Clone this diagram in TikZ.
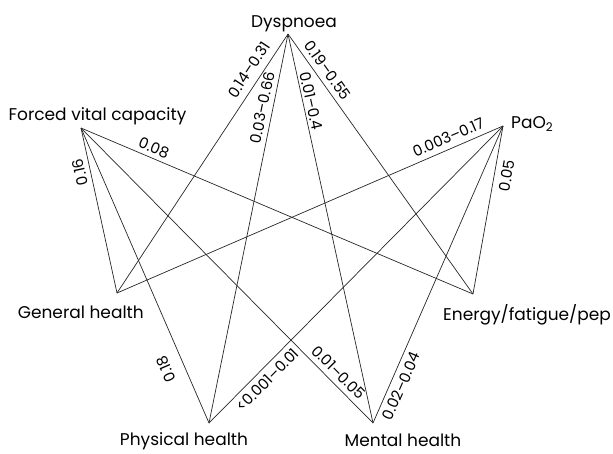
\documentclass[tikz,border=0pt]{standalone}
\usepackage{fontspec}
\setmainfont{Poppins}
\begin{document}
\begin{tikzpicture}[x=1pt,y=-1pt,
  edge/.style={draw=black!85, line width=0.7pt},
  lab/.style={font=\fontsize{15}{17}\selectfont, inner sep=0pt, sloped},
  ttl/.style={font=\fontsize{17}{20}\selectfont, inner sep=0pt, anchor=base}]
\useasboundingbox (0,0) rectangle (613,453);
\coordinate (D) at (288,34);
\coordinate (F) at (81,128);
\coordinate (P) at (503,126);
\coordinate (G) at (117,293);
\coordinate (Ph) at (209,423);
\coordinate (M) at (373,423);
\coordinate (E) at (473,294);

\node[ttl] (tD) at (294,27) {Dyspnoea};
\node[ttl] (tF) at (97.5,120) {Forced vital capacity};
\node[ttl, anchor=base west] (tP) at (511,128.3) {PaO\textsubscript{2}};
\node[ttl] (tG) at (80.8,318.3) {General health};
\node[ttl] (tPh) at (184,445) {Physical health};
\node[ttl] (tE) at (527,320.7) {Energy/fatigue/pep};
\node[ttl] (tM) at (403,446.7) {Mental health};

\draw[edge] (G) -- (D) node[lab, pos=0.834, above=7pt] {0.14--0.31};
\draw[edge] (Ph) -- (D) node[lab, pos=0.805, above=4.5pt] {0.03--0.66};
\draw[edge] (D) -- (M) node[lab, pos=0.177, above=2.5pt] {0.01--0.4};
\draw[edge] (D) -- (E) node[lab, pos=0.165, above=5.4pt] {0.19--0.55};
\draw[edge] (F) -- (E) node[lab, pos=0.176, above=4.2pt] {0.08};
\draw[edge] (G) -- (F) node[lab, allow upside down, pos=0.745, above=4.1pt] {0.16};
\draw[edge] (Ph) -- (F) node[lab, allow upside down, pos=0.207, above=11.5pt] {0.18};
\draw[edge] (F) -- (M) node[lab, pos=0.855, above=5.1pt] {0.01--0.05};
\draw[edge] (G) -- (P) node[lab, pos=0.87, above=5.5pt] {0.003--0.17};
\draw[edge] (E) -- (P) node[lab, pos=0.718, below=6.7pt] {0.05};
\draw[edge] (Ph) -- (P) node[lab, pos=0.172, below=5.4pt] {<0.001--0.01};
\draw[edge] (M) -- (P) node[lab, pos=0.139, below=5.2pt] {0.02--0.04};
\end{tikzpicture}
\end{document}
